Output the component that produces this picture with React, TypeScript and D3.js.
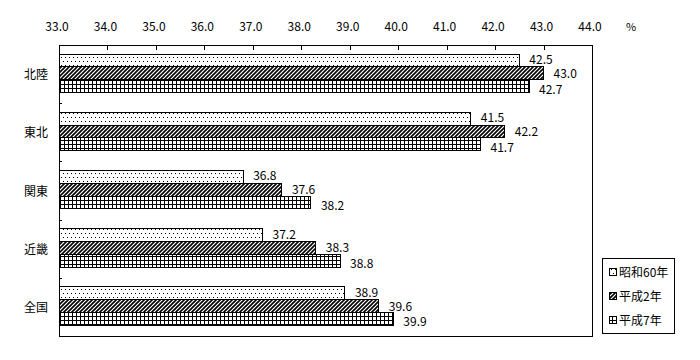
import React from "react";
import * as d3 from "d3";

const categories = ["北陸", "東北", "関東", "近畿", "全国"];
const seriesNames = ["昭和60年", "平成2年", "平成7年"];
const s1985 = [42.5, 41.5, 36.8, 37.2, 38.9];
const s1990 = [43.0, 42.2, 37.6, 38.3, 39.6];
const s1995 = [42.7, 41.7, 38.2, 38.8, 39.9];
const xTicks = [33, 34, 35, 36, 37, 38, 39, 40, 41, 42, 43, 44];
const unitLabel = "%";

const W = 700, H = 360;
const plot = { left: 59, right: 592, top: 45, bottom: 336 };
const FONT = "'MS Gothic', 'Noto Sans CJK JP', sans-serif";
const patterns = ["pDots", "pHatch", "pGrid"];

export default function App() {
  const series = [s1985, s1990, s1995];
  const x = d3.scaleLinear().domain([33, 44]).range([plot.left, plot.right]);
  const y = d3.scaleBand().domain(categories).range([plot.top, plot.bottom]);
  const inner = d3.scaleBand().domain(seriesNames).range([9, 47.5]);
  const labelDy = [-1, 0, 3];
  const boundaries = categories.slice(1).map((c) => y(c) as number);

  return (
    <svg width={W} height={H} style={{ position: "absolute", left: 0, top: 0, background: "#fff" }} fontFamily={FONT}>
      <defs>
        <pattern id="pDots" patternUnits="userSpaceOnUse" width={4} height={8}>
          <rect width={4} height={8} fill="#fff" />
          <rect x={1} y={1} width={1} height={1} fill="#000" />
          <rect x={3} y={5} width={1} height={1} fill="#000" />
        </pattern>
        <pattern id="pHatch" patternUnits="userSpaceOnUse" width={4} height={4}>
          <rect width={4} height={4} fill="#fff" />
          <path d="M-1,5 L5,-1 M-1,1 L1,-1 M3,5 L5,3" stroke="#000" strokeWidth={1.6} />
        </pattern>
        <pattern id="pGrid" patternUnits="userSpaceOnUse" width={4} height={4}>
          <rect width={4} height={4} fill="#fff" />
          <rect x={0} y={0} width={4} height={1} fill="#000" />
          <rect x={0} y={0} width={1} height={4} fill="#000" />
        </pattern>
      </defs>
      <rect width={W} height={H} fill="#fff" />

      {xTicks.map((t) => (
        <text key={"xl" + t} x={x(t) - 2} y={31} fontSize={12} textAnchor="middle" fill="#000">
          {t.toFixed(1)}
        </text>
      ))}
      <text x={631} y={31} fontSize={11} textAnchor="middle" fill="#000">{unitLabel}</text>

      {categories.map((c, i) =>
        series.map((s, k) => {
          const by = (y(c) as number) + (inner(seriesNames[k]) as number);
          const bh = inner.bandwidth();
          return (
            <g key={c + k}>
              <rect x={x(33)} y={by} width={x(s[i]) - x(33)} height={bh}
                fill={`url(#${patterns[k]})`} stroke="#000" strokeWidth={1} shapeRendering="crispEdges" />
              <text x={x(s[i]) + 10} y={by + bh / 2 + labelDy[k] + 4.5} fontSize={12} fill="#000">
                {s[i].toFixed(1)}
              </text>
            </g>
          );
        })
      )}

      <rect x={plot.left} y={plot.top} width={plot.right - plot.left} height={plot.bottom - plot.top}
        fill="none" stroke="#000" strokeWidth={1} shapeRendering="crispEdges" />
      {xTicks.slice(1, -1).map((t) => (
        <line key={"xt" + t} x1={Math.round(x(t)) + 0.5} x2={Math.round(x(t)) + 0.5} y1={plot.top} y2={plot.top + 5}
          stroke="#000" strokeWidth={1} />
      ))}
      {boundaries.map((b, i) => (
        <line key={"yt" + i} x1={plot.left} x2={plot.left + 3} y1={Math.round(b) + 0.5} y2={Math.round(b) + 0.5}
          stroke="#000" strokeWidth={1} />
      ))}
      {categories.map((c) => (
        <text key={"cl" + c} x={36} y={(y(c) as number) + y.bandwidth() / 2 + 5} fontSize={12} textAnchor="middle" fill="#000">
          {c}
        </text>
      ))}

      <rect x={602.5} y={258.5} width={72} height={75} fill="#fff" stroke="#000" strokeWidth={1} />
      {seriesNames.map((n, k) => {
        const cy = 272 + k * 24;
        return (
          <g key={"lg" + n}>
            <rect x={609.5} y={cy - 3.5} width={7} height={7} fill={`url(#${patterns[k]})`} stroke="#000" strokeWidth={1} />
            <text x={619} y={cy + 4.5} fontSize={12} fill="#000">{n}</text>
          </g>
        );
      })}
    </svg>
  );
}
